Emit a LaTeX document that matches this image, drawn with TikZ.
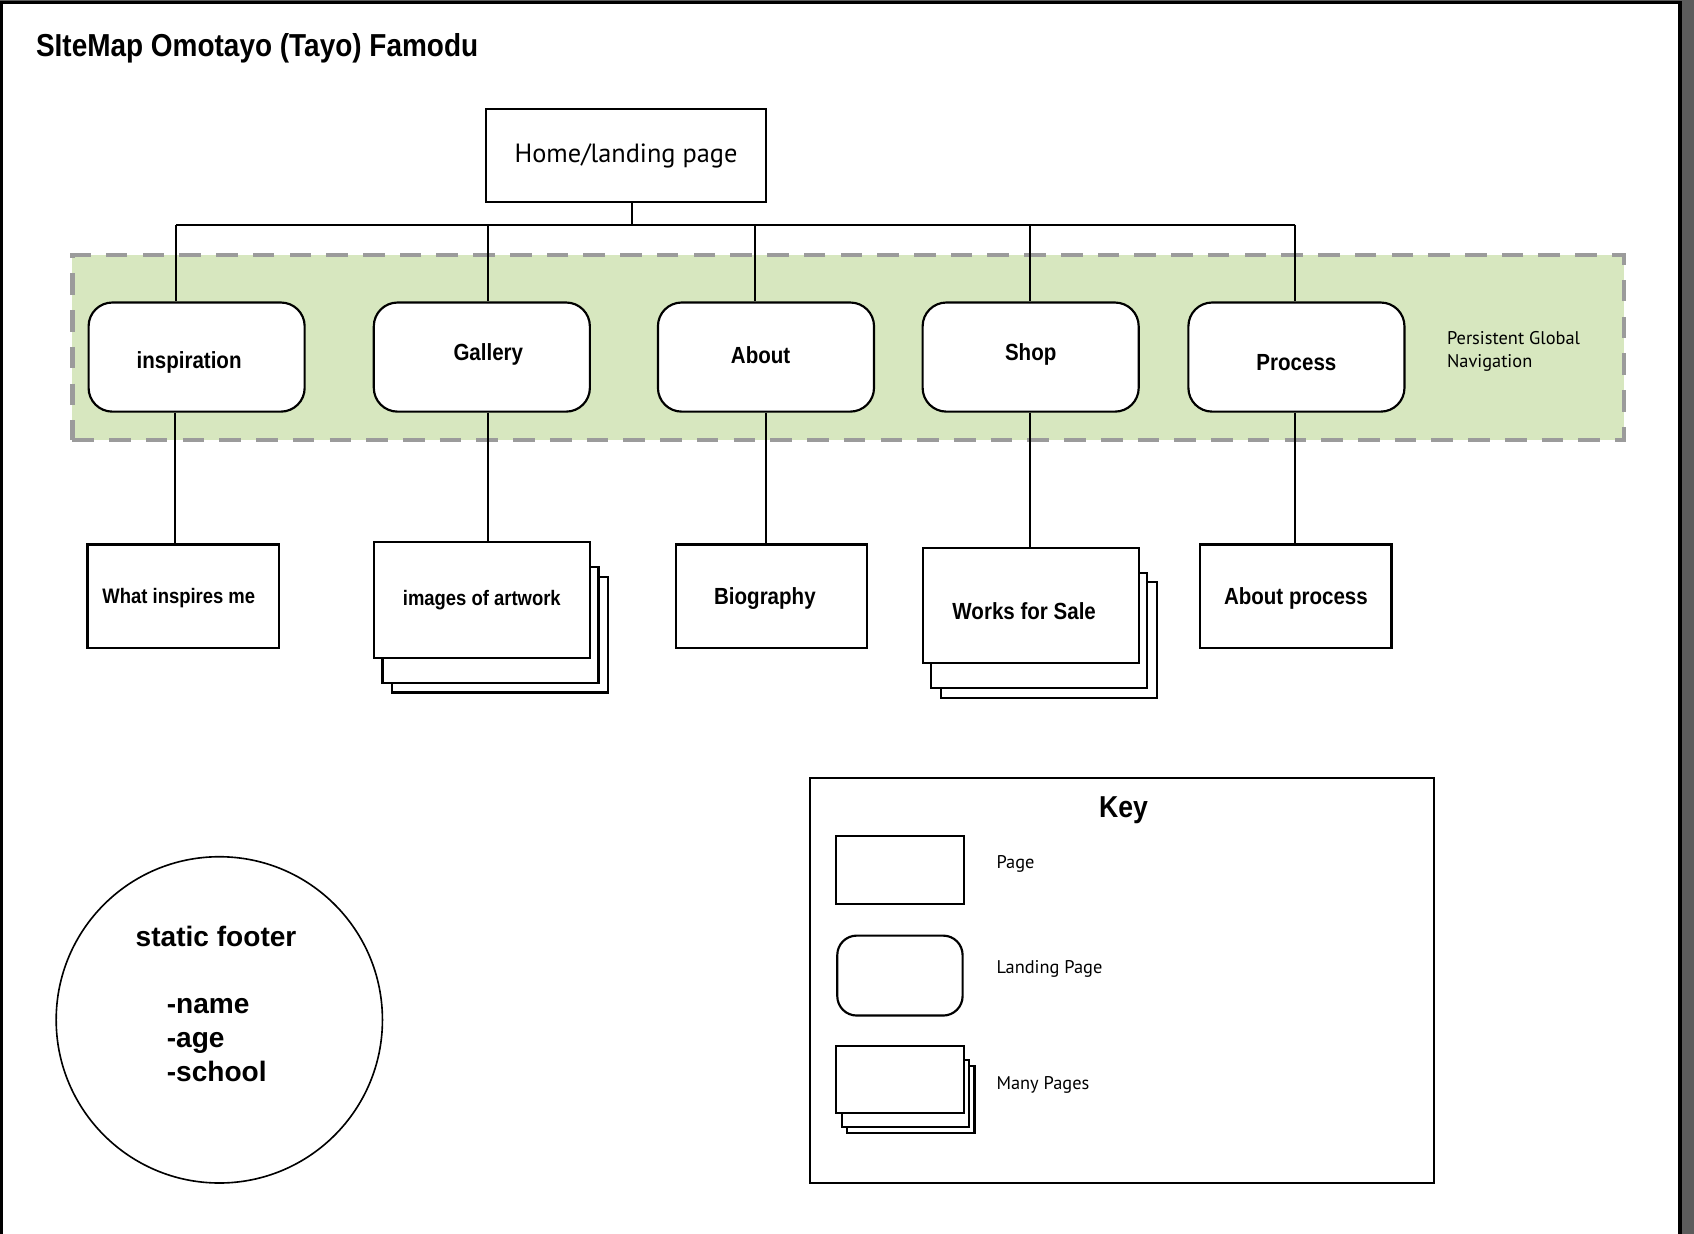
\documentclass[tikz,border=0pt]{standalone}
\usepackage{fontspec}
\setmainfont{PT Sans}
\newfontfamily\lblfont[FakeStretch=0.88]{Liberation Sans}
\newfontfamily\footfont{Liberation Sans}
\usetikzlibrary{shadows}
\definecolor{nav}{HTML}{D7E7BF}
\definecolor{navline}{HTML}{9B9B9B}
\definecolor{bar}{HTML}{5C5C5C}
\newcommand{\lift}[2]{\raisebox{#1}[\height][\depth]{#2}}

\tikzset{
  page/.style={shape=rectangle, draw, line width=1pt, fill=white, inner sep=0pt,
    minimum width=88.5pt, minimum height=48pt,
    font=\lblfont\bfseries\fontsize{10.8}{13}\selectfont},
  landing/.style={page, rounded corners=11pt, minimum width=100pt, minimum height=50.5pt},
  many/.style n args={4}{page,
    general shadow={draw, fill=white, line width=1pt, shadow xshift=#3, shadow yshift=#4},
    general shadow={draw, fill=white, line width=1pt, shadow xshift=#1, shadow yshift=#2}},
  link/.style={line width=1pt},
  keytext/.style={anchor=west, inner sep=0pt, font=\fontsize{8.5}{10}\selectfont},
  small/.style={font=\lblfont\bfseries\fontsize{9.7}{12}\selectfont}
}

\begin{document}
\begin{tikzpicture}[x=0.5pt, y=-0.5pt]
    \useasboundingbox (0,0) rectangle (1568,1142);
    % window frame
    \fill[bar] (1557,0) rectangle (1568,1142);
    \fill[bar] (0,0) rectangle (1568,1);
    \draw[line width=1.5pt] (1.5,1142) -- (1.5,2.5) -- (1555,2.5) -- (1555,1142);

    \node at (33, 45) (title) [anchor=west, inner sep=0pt, font=\lblfont\bfseries\fontsize{14.7}{17}\selectfont] {SIteMap Omotayo (Tayo) Famodu};

    % navigation band
    \node at (785, 321.5) (band) [draw=navline, fill=nav, line width=2pt, dash pattern=on 10pt off 7pt,
      minimum width=718pt, minimum height=85.5pt, inner sep=0pt] {};
    \node at (1339, 325.5) (bandtext) [anchor=west, inner sep=0pt, align=left, font=\fontsize{8.5}{10.5}\selectfont] {Persistent Global\\Navigation};

    \node at (579.5, 144) (home) [page, font=\fontsize{12.2}{15}\selectfont, minimum width=129.5pt, minimum height=43pt] {Home/landing page};

    % landing pages
    \node at (182, 330.5) (insp) [landing] {\lift{-2.5pt}{inspiration}\kern7pt};
    \node at (446, 330.5) (gallery) [landing] {\kern6pt\lift{1pt}{Gallery}};
    \node at (709, 330.5) (about) [landing] {\lift{1pt}{About}\kern5pt};
    \node at (954, 330.5) (shop) [landing] {\lift{1pt}{Shop}};
    \node at (1200, 330.5) (process) [landing] {\lift{-2.5pt}{Process}};

    % pages
    \node at (169.5, 552) (what) [page, small] {\lift{-1pt}{What inspires me}\kern4pt};
    \node at (446, 555.5) (images) [many={4pt}{-11.5pt}{8.5pt}{-16pt}, small, minimum width=100pt, minimum height=53.5pt] {images of artwork};
    \node at (714, 552) (bio) [page] {\lift{-1pt}{Biography}\kern6pt};
    \node at (954, 560.5) (works) [many={4pt}{-11.5pt}{8.5pt}{-16pt}, minimum width=100pt, minimum height=53.5pt] {\lift{-2.5pt}{Works for Sale}\kern6pt};
    \node at (1199.5, 552) (aboutproc) [page] {\lift{-1pt}{About process}};

    % links
    \coordinate (hub) at (585, 208);
    \coordinate (barL) at (163, 208);
    \coordinate (barR) at (1199, 208);
    \draw[link] (home.south -| hub) -- (hub);
    \draw[link] (barL) -- (barR);
    \foreach \name/\x in {insp/163, gallery/452, about/699, shop/953, process/1199}
      \draw[link] (barL -| \x,0) -- (\name.north -| \x,0);
    \foreach \from/\to/\x in {insp/what/162, gallery/images/452, about/bio/709, shop/works/953, process/aboutproc/1199}
      \draw[link] (\from.south -| \x,0) -- (\to.north -| \x,0);

    % key
    \node at (1038.5, 907.5) (key) [draw, line width=1pt, minimum width=288.5pt, minimum height=187.5pt] {};
    \node at (1040, 750) (keytitle) [font=\lblfont\bfseries\fontsize{14}{16}\selectfont] {Key};
    \node at (833, 805.5) (keypage) [page, minimum width=59pt, minimum height=31.5pt] {};
    \node at (833, 903) (keyland) [landing, rounded corners=9pt, minimum width=58pt, minimum height=37pt] {};
    \node at (833, 999) (keymany) [many={2.5pt}{-6.5pt}{5pt}{-9.5pt}, minimum width=59pt, minimum height=31pt] {};
    \node at (922, 800) (keypagetext) [keytext] {Page};
    \node at (922, 897) (keylandtext) [keytext] {Landing Page};
    \node at (922, 1004) (keymanytext) [keytext] {Many Pages};

    % footer
    \node at (203, 944) (footer) [circle, draw, line width=0.75pt, minimum size=151pt, inner sep=0pt] {};
    \node at (200, 867) (foothead) [font=\footfont\bfseries\fontsize{13}{15.75}\selectfont] {static footer};
    \node at (154, 963) (footlist) [anchor=west, inner sep=0pt, align=left, font=\footfont\bfseries\fontsize{13}{15.75}\selectfont] {-name\\-age\\-school};
\end{tikzpicture}
\end{document}
